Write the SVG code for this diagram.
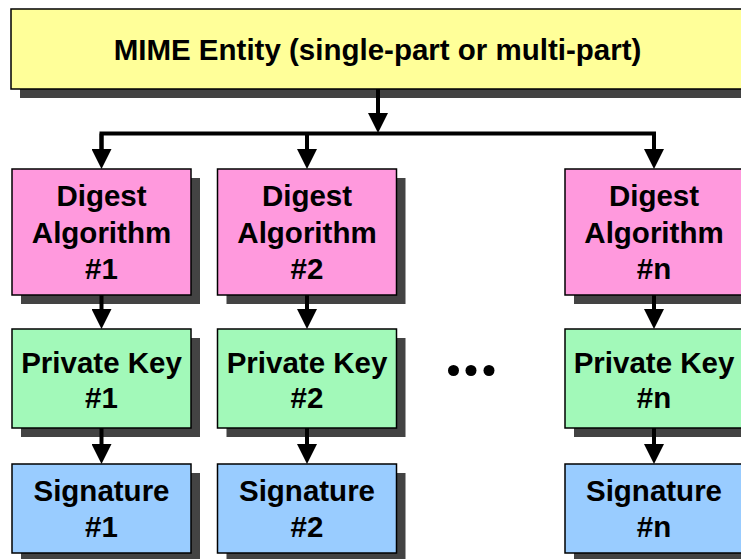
<svg xmlns="http://www.w3.org/2000/svg" width="741" height="559" viewBox="0 0 741 559">
  <defs>
    <marker id="arrow" markerUnits="userSpaceOnUse" markerWidth="20" markerHeight="20" viewBox="0 0 20 20" refX="10" refY="10" orient="auto">
      <path d="M0,0 L20,10 L0,20 Z" fill="#000"/>
    </marker>
    <style>
      .shadow { fill: #434343; }
      .box { stroke: #000; stroke-width: 1.5; }
      .entity { fill: #ffff99; }
      .digest { fill: #ff99dd; }
      .key { fill: #a2f9b9; }
      .sig { fill: #99ccff; }
      .lbl { font-family: "Liberation Sans", Arial, sans-serif; font-weight: bold; font-size: 29.5px; fill: #000; text-anchor: middle; }
      .conn { fill: none; stroke: #000; stroke-width: 4; stroke-linejoin: miter; }
    </style>
  </defs>
  <rect width="741" height="559" fill="#fff"/>

  <!-- top entity -->
  <g id="mime-entity">
    <rect class="shadow" x="20" y="18" width="740" height="80"/>
    <rect class="box entity" x="11" y="9" width="740" height="80"/>
    <text class="lbl" x="377.5" y="59.5">MIME Entity (single-part or multi-part)</text>
  </g>

  <!-- digest algorithms -->
  <g id="digest-1">
    <rect class="shadow" x="21" y="178" width="179" height="126"/>
    <rect class="box digest" x="12" y="169" width="179" height="126"/>
    <text class="lbl" x="101.5" y="206">Digest</text>
    <text class="lbl" x="101.5" y="243">Algorithm</text>
    <text class="lbl" x="101.5" y="278.5">#1</text>
  </g>
  <g id="digest-2">
    <rect class="shadow" x="226.5" y="178" width="179" height="126"/>
    <rect class="box digest" x="217.5" y="169" width="179" height="126"/>
    <text class="lbl" x="307" y="206">Digest</text>
    <text class="lbl" x="307" y="243">Algorithm</text>
    <text class="lbl" x="307" y="278.5">#2</text>
  </g>
  <g id="digest-n">
    <rect class="shadow" x="574" y="178" width="179" height="126"/>
    <rect class="box digest" x="565" y="169" width="179" height="126"/>
    <text class="lbl" x="654" y="206">Digest</text>
    <text class="lbl" x="654" y="243">Algorithm</text>
    <text class="lbl" x="654" y="278.5">#n</text>
  </g>

  <!-- private keys -->
  <g id="key-1">
    <rect class="shadow" x="21" y="338" width="179" height="99"/>
    <rect class="box key" x="12" y="329" width="179" height="99"/>
    <text class="lbl" x="101.5" y="373">Private Key</text>
    <text class="lbl" x="101.5" y="407.5">#1</text>
  </g>
  <g id="key-2">
    <rect class="shadow" x="226.5" y="338" width="179" height="99"/>
    <rect class="box key" x="217.5" y="329" width="179" height="99"/>
    <text class="lbl" x="307" y="373">Private Key</text>
    <text class="lbl" x="307" y="407.5">#2</text>
  </g>
  <g id="key-n">
    <rect class="shadow" x="574" y="338" width="179" height="99"/>
    <rect class="box key" x="565" y="329" width="179" height="99"/>
    <text class="lbl" x="654" y="373">Private Key</text>
    <text class="lbl" x="654" y="407.5">#n</text>
  </g>

  <!-- signatures -->
  <g id="sig-1">
    <rect class="shadow" x="21" y="473" width="179" height="90"/>
    <rect class="box sig" x="12" y="464" width="179" height="89"/>
    <text class="lbl" x="101.5" y="501">Signature</text>
    <text class="lbl" x="101.5" y="537">#1</text>
  </g>
  <g id="sig-2">
    <rect class="shadow" x="226.5" y="473" width="179" height="90"/>
    <rect class="box sig" x="217.5" y="464" width="179" height="89"/>
    <text class="lbl" x="307" y="501">Signature</text>
    <text class="lbl" x="307" y="537">#2</text>
  </g>
  <g id="sig-n">
    <rect class="shadow" x="574" y="473" width="179" height="90"/>
    <rect class="box sig" x="565" y="464" width="179" height="89"/>
    <text class="lbl" x="654" y="501">Signature</text>
    <text class="lbl" x="654" y="537">#n</text>
  </g>

  <!-- ellipsis between columns -->
  <g id="ellipsis" fill="#000">
    <circle cx="453.5" cy="370.5" r="5.5"/>
    <circle cx="471" cy="370.5" r="5.5"/>
    <circle cx="489" cy="370.5" r="5.5"/>
  </g>

  <!-- connectors -->
  <g id="connectors">
    <path class="conn" d="M378,89 V123" marker-end="url(#arrow)"/>
    <path class="conn" d="M101.5,159 V133.5 H654 V159" marker-end="url(#arrow)"/>
    <path class="conn" d="M101.5,133.5 V159" marker-end="url(#arrow)"/>
    <path class="conn" d="M307,133.5 V159" marker-end="url(#arrow)"/>
    <path class="conn" d="M101.5,295 V319" marker-end="url(#arrow)"/>
    <path class="conn" d="M307,295 V319" marker-end="url(#arrow)"/>
    <path class="conn" d="M654,295 V319" marker-end="url(#arrow)"/>
    <path class="conn" d="M101.5,428 V454" marker-end="url(#arrow)"/>
    <path class="conn" d="M307,428 V454" marker-end="url(#arrow)"/>
    <path class="conn" d="M654,428 V454" marker-end="url(#arrow)"/>
  </g>
</svg>
